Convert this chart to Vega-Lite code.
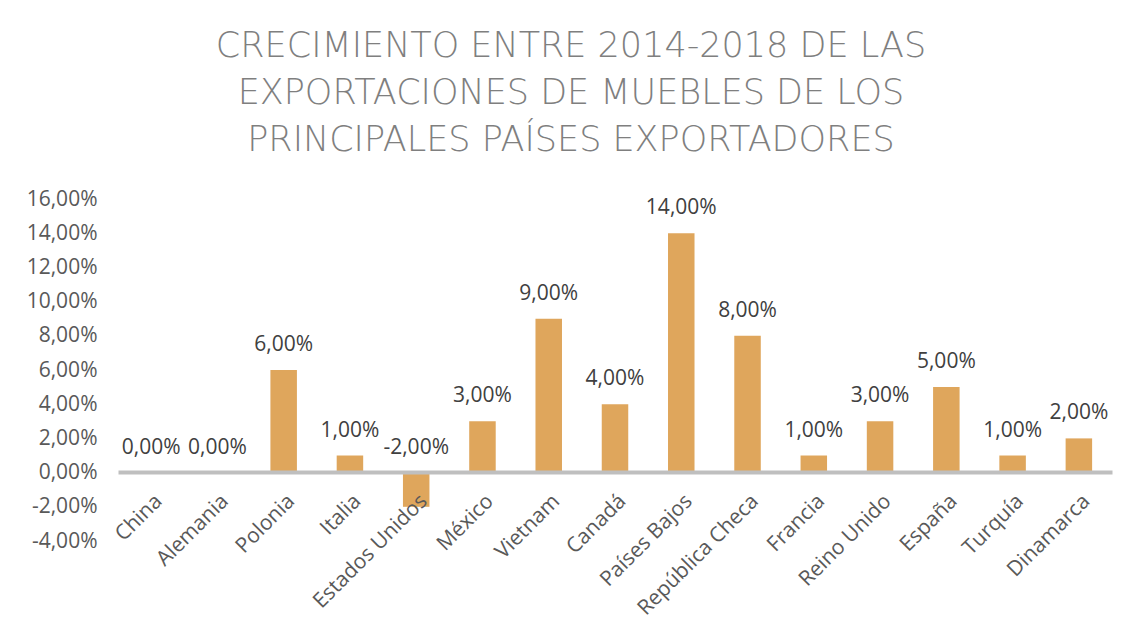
{
  "$schema": "https://vega.github.io/schema/vega-lite/v6.json",
  "autosize": "none",
  "width": 994,
  "height": 342,
  "padding": {"left": 118, "top": 199, "right": 19, "bottom": 87},
  "background": "white",
  "config": {
    "locale": {"number": {"decimal": ",", "thousands": ".", "grouping": [3], "currency": ["", " €"], "minus": "-"}},
    "view": {"stroke": null},
    "font": "Open Sans"
  },
  "title": {
    "text": ["CRECIMIENTO ENTRE 2014-2018 DE LAS", "EXPORTACIONES DE MUEBLES DE LOS", "PRINCIPALES PAÍSES EXPORTADORES"],
    "font": "DejaVu Sans",
    "fontWeight": 200,
    "fontSize": 35,
    "lineHeight": 47,
    "color": "#7F7F7F",
    "anchor": "middle",
    "frame": "group",
    "dx": -44,
    "offset": 30
  },
  "data": {
    "values": [
      {"pais": "China", "valor": 0.0},
      {"pais": "Alemania", "valor": 0.0},
      {"pais": "Polonia", "valor": 0.06},
      {"pais": "Italia", "valor": 0.01},
      {"pais": "Estados Unidos", "valor": -0.02},
      {"pais": "México", "valor": 0.03},
      {"pais": "Vietnam", "valor": 0.09},
      {"pais": "Canadá", "valor": 0.04},
      {"pais": "Países Bajos", "valor": 0.14},
      {"pais": "República Checa", "valor": 0.08},
      {"pais": "Francia", "valor": 0.01},
      {"pais": "Reino Unido", "valor": 0.03},
      {"pais": "España", "valor": 0.05},
      {"pais": "Turquía", "valor": 0.01},
      {"pais": "Dinamarca", "valor": 0.02}
    ]
  },
  "encoding": {
    "x": {
      "field": "pais",
      "type": "nominal",
      "sort": null,
      "scale": {"paddingInner": 0.6, "paddingOuter": 0.3},
      "axis": {
        "title": null,
        "labelAngle": -45,
        "labelFontSize": 21,
        "labelColor": "#595959",
        "labelPadding": 18,
        "labelOverlap": false,
        "ticks": false,
        "domainColor": "#BFBFBF",
        "domainWidth": 4,
        "offset": -69,
        "zindex": 1
      }
    }
  },
  "layer": [
    {
      "mark": {"type": "bar", "color": "#DFA65C"},
      "encoding": {
        "y": {
          "field": "valor",
          "type": "quantitative",
          "scale": {"domain": [-0.04, 0.16], "nice": false},
          "axis": {
            "title": null,
            "format": ".2%",
            "values": [-0.04, -0.02, 0, 0.02, 0.04, 0.06, 0.08, 0.1, 0.12, 0.14, 0.16],
            "grid": false,
            "domain": false,
            "ticks": false,
            "labelOverlap": false,
            "labelFontSize": 21,
            "labelColor": "#595959",
            "labelPadding": 21
          }
        }
      }
    },
    {
      "transform": [{"calculate": "max(datum.valor, 0)", "as": "pos"}],
      "mark": {"type": "text", "fontSize": 21, "color": "#404040", "baseline": "middle", "dy": -25},
      "encoding": {
        "y": {
          "field": "pos",
          "type": "quantitative",
          "axis": {
            "title": null,
            "format": ".2%",
            "values": [-0.04, -0.02, 0, 0.02, 0.04, 0.06, 0.08, 0.1, 0.12, 0.14, 0.16],
            "grid": false,
            "domain": false,
            "ticks": false,
            "labelOverlap": false,
            "labelFontSize": 21,
            "labelColor": "#595959",
            "labelPadding": 21
          }
        },
        "text": {"field": "valor", "type": "quantitative", "format": ".2%"}
      }
    }
  ]
}
